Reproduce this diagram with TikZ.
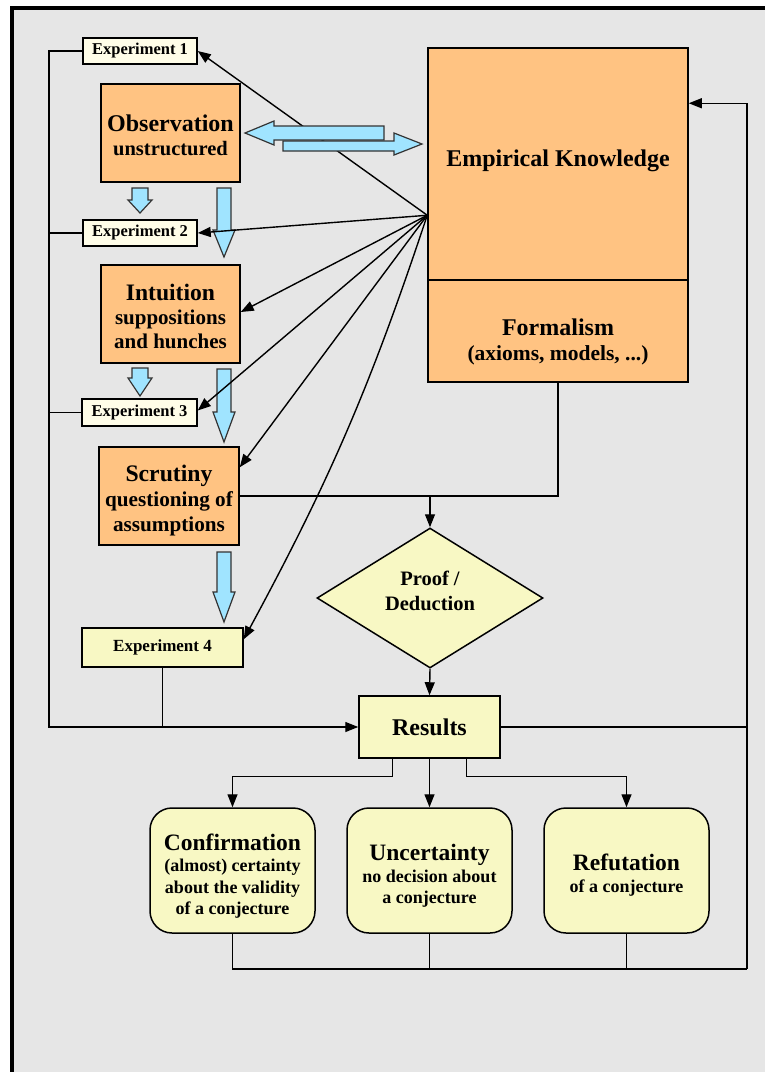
\documentclass[tikz,border=0pt]{standalone}
\usepackage{fontspec}
\setmainfont{Liberation Serif}
\usetikzlibrary{shapes.geometric,arrows.meta,calc}
\definecolor{bgc}{HTML}{E6E6E6}
\definecolor{orng}{HTML}{FFC382}
\definecolor{blu}{HTML}{A0E4FF}
\definecolor{crm}{HTML}{FFFDE8}
\definecolor{ylw}{HTML}{F8F8C4}
\newcommand{\blkdown}[6]{%
  \filldraw[blk] ({#1-#5},#2) -- ({#1+#5},#2) -- ({#1+#5},#3) -- ({#1+#6},#3) -- (#1,#4) -- ({#1-#6},#3) -- ({#1-#5},#3) -- cycle;}
\begin{document}
\begin{tikzpicture}[x=1pt,y=-1pt,
  box/.style={draw=black,line width=1.5pt,inner sep=0pt,align=center,text=black},
  txt/.style={inner sep=0pt,align=center,text=black},
  expbox/.style={box,fill=crm,font=\bfseries\fontsize{16.5}{18}\selectfont},
  orbox/.style={box,fill=orng},
  ylbox/.style={box,fill=ylw},
  outbox/.style={box,fill=ylw,rounded corners=22pt,minimum width=165pt,minimum height=125pt},
  outtxt/.style={txt,font=\bfseries\fontsize{18}{21.5}\selectfont},
  con/.style={line width=1.4pt,draw=black},
  arr/.style={con,-{Triangle[length=13pt,width=10pt]}},
  blk/.style={fill=blu,draw=black!80,line width=1.2pt,line join=miter}]
\useasboundingbox (0,0) rectangle (765,1072);
\fill[white] (0,0) rectangle (765,1072);
\fill[bgc] (12,8) rectangle (765,1072);
\draw[line width=4pt] (12,1072) -- (12,8) -- (765,8);

% nodes
\node[expbox,minimum width=114pt,minimum height=26pt] (e1) at (140,51) {Experiment 1};
\node[expbox,minimum width=114pt,minimum height=26pt] (e2) at (140,233) {Experiment 2};
\node[expbox,minimum width=115pt,minimum height=27pt] (e3) at (139.5,412.5) {Experiment 3};
\node[expbox,fill=ylw,minimum width=161pt,minimum height=39pt,font=\bfseries\fontsize{17}{18}\selectfont] (e4) at (162.5,647.5) {Experiment 4};

\node[orbox,minimum width=139pt,minimum height=98pt] (obs) at (170.5,133) {};
\node[txt,font=\bfseries\fontsize{20.5}{24}\selectfont] (obst) at (170.5,135)
  {\fontsize{24}{24}\selectfont Observation\\unstructured};
\node[orbox,minimum width=139pt,minimum height=98pt] (int) at (170.5,314) {};
\node[txt,font=\bfseries\fontsize{21}{24}\selectfont] (intt) at (170.5,316)
  {\fontsize{23.6}{24}\selectfont Intuition\\suppositions\\and hunches};
\node[orbox,minimum width=140pt,minimum height=98pt] (scr) at (169,496) {};
\node[txt,font=\bfseries\fontsize{21.2}{25}\selectfont] (scrt) at (169,500.5)
  {\fontsize{23.7}{25}\selectfont Scrutiny\\questioning of\\assumptions};

\node[orbox,minimum width=260pt,minimum height=232pt] (emp) at (558,164) {};
\node[txt,font=\bfseries\fontsize{24}{26}\selectfont] (empt) at (558,161) {Empirical Knowledge};
\node[orbox,minimum width=260pt,minimum height=102pt] (form) at (558,331) {};
\node[txt,font=\bfseries\fontsize{21.5}{25}\selectfont] (formt) at (558,341.5)
  {\fontsize{24}{25}\selectfont Formalism\\(axioms, models, ...)};

\node[ylbox,shape=diamond,minimum width=226pt,minimum height=140pt] (dia) at (430,598) {};
\node[txt,font=\bfseries\fontsize{20.5}{25}\selectfont] (diat) at (430,590.5) {Proof /\\Deduction};
\node[ylbox,minimum width=141pt,minimum height=62pt,font=\bfseries\fontsize{24}{26}\selectfont] (res) at (429.5,727) {Results};

\node[outbox] (conf) at (232.5,870.5) {};
\node[outtxt] (conft) at (232.5,876)
  {\fontsize{23.5}{22}\selectfont Confirmation\\(almost) certainty\\about the validity\\of a conjecture};
\node[outbox] (unc) at (429.5,870.5) {};
\node[outtxt] (unct) at (429.5,876)
  {\fontsize{23.5}{22}\selectfont Uncertainty\\no decision about\\a conjecture};
\node[outbox] (ref) at (626.5,870.5) {};
\node[outtxt] (reft) at (626.5,875)
  {\fontsize{23.5}{22}\selectfont Refutation\\of a conjecture};

% vertical blue arrows (behind connectors)
\blkdown{140}{188}{200}{213}{8}{12}
\blkdown{224}{188}{230}{257}{7}{11}
\blkdown{140}{368}{378}{396}{8}{12}
\blkdown{224}{369}{412}{442}{7}{11}
\blkdown{224}{552}{592}{622}{7}{11}

% fan of arrows from empirical knowledge
\coordinate (src) at ($(emp.north west)+(0,168)$);
\draw[arr] (src) -- (e1.east);
\draw[arr] (src) -- (e2.east);
\draw[arr] (src) -- ($(int.east)+(0,-2)$);
\draw[arr] (src) -- ($(e3.east)+(0,-2)$);
\draw[arr] (src) -- ($(scr.north east)+(0,21)$);
\draw[arr] (src) to[bend left=5] ($(e4.north east)+(0,12)$);

% double block arrow
\filldraw[blk] (283,141) -- (394,141) -- (394,133) -- (422,144) -- (394,155) -- (394,151) -- (283,151) -- cycle;
\filldraw[blk] (384,126) -- (274,126) -- (274,121) -- (245,133) -- (274,145) -- (274,140) -- (384,140) -- cycle;

% left bus
\coordinate (busb) at (49,727);
\draw[arr] (e1.west) -| (busb) -- (res.west);
\draw[con] (e2.west) -- (e2.west -| busb);
\draw[con] (e3.west) -- (e3.west -| busb);
\draw[con] (e4.south) -- (e4.south |- res.west);

% scrutiny / formalism to proof
\draw[con] (scr.east) -| (form.south);
\draw[arr] (dia.north |- scr.east) -- (dia.north);
\draw[arr] (dia.south) -- (res.north);

% results to outcomes
\draw[arr] ($(res.south west)+(34,0)$) |- ($(conf.north)+(0,-31)$) -- (conf.north);
\draw[arr] (res.south) -- (unc.north);
\draw[arr] ($(res.south east)+(-34,0)$) |- ($(ref.north)+(0,-31)$) -- (ref.north);

% feedback loop
\coordinate (bl) at (747,969);
\draw[con] (conf.south) |- (bl);
\draw[con] (unc.south) -- (unc.south |- bl);
\draw[con] (ref.south) -- (ref.south |- bl);
\draw[con] (res.east) -- (res.east -| bl);
\draw[arr] (bl) |- ($(emp.north east)+(0,56)$);
\end{tikzpicture}
\end{document}
